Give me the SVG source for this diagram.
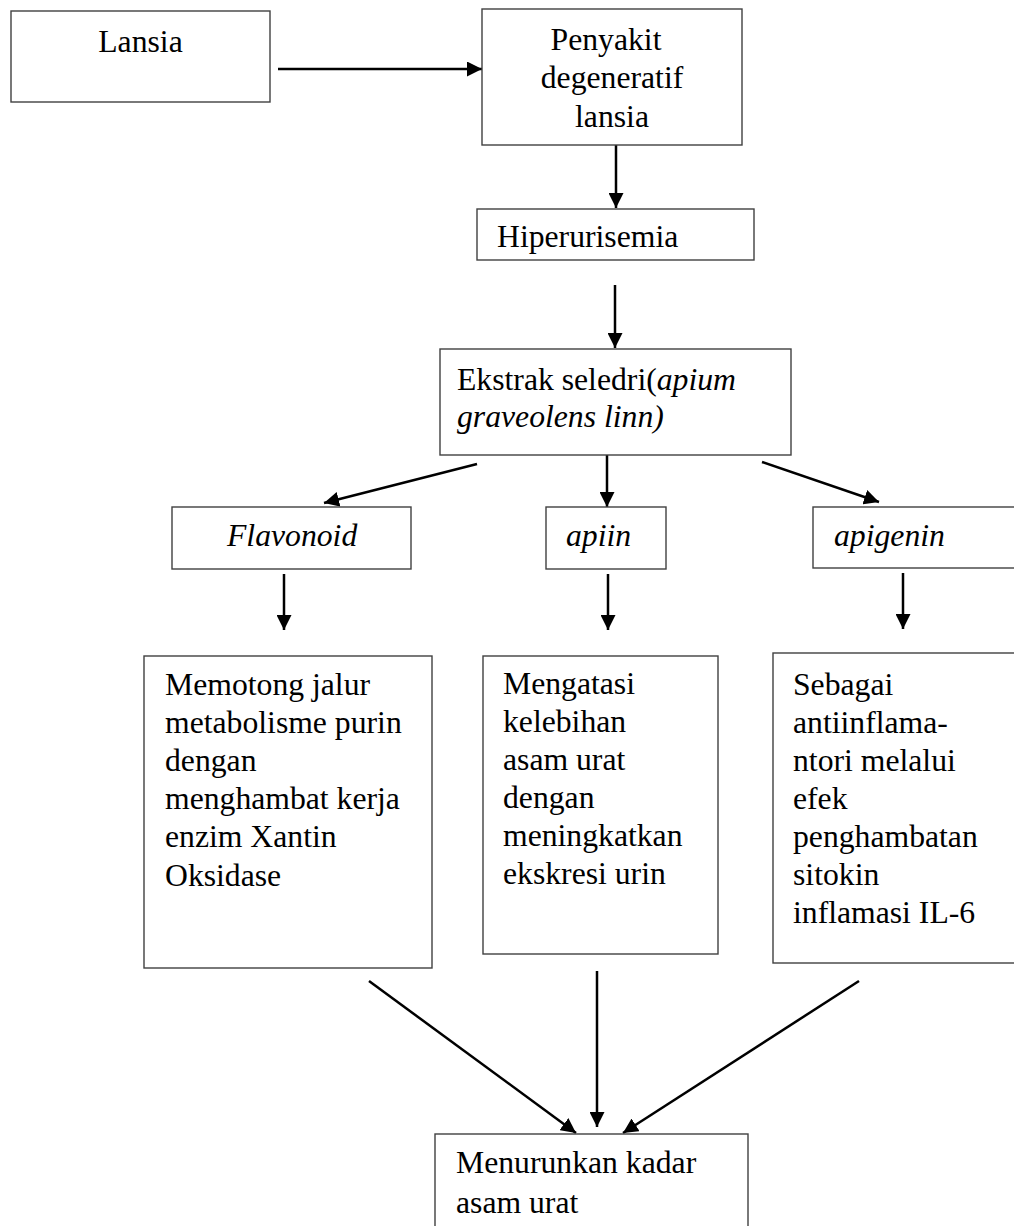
<svg xmlns="http://www.w3.org/2000/svg" width="1014" height="1226" viewBox="0 0 1014 1226">
<style>
.box{fill:#fff;stroke:#404040;stroke-width:1.4}
.t{font-family:"Liberation Serif","Times New Roman",serif;font-size:31.7px;fill:#000}
.i{font-style:italic}
.c{stroke:#000;stroke-width:2.5;fill:none;marker-end:url(#ah)}
</style>
<defs>
<marker id="ah" viewBox="0 0 10 10" refX="10" refY="5" markerWidth="6" markerHeight="6" markerUnits="strokeWidth" orient="auto">
<path d="M0,0 L10,5 L0,10 z" fill="#000"/>
</marker>
</defs>
<rect width="1014" height="1226" fill="#fff"/>
<g id="connectors">
<line class="c" x1="278" y1="69" x2="482" y2="69"/>
<line class="c" x1="616" y1="145" x2="616" y2="208"/>
<line class="c" x1="615" y1="285" x2="615" y2="348"/>
<line class="c" x1="477" y1="464" x2="324" y2="503"/>
<line class="c" x1="607" y1="455" x2="607" y2="507"/>
<line class="c" x1="762" y1="462" x2="879" y2="502"/>
<line class="c" x1="284" y1="574" x2="284" y2="630"/>
<line class="c" x1="608" y1="574" x2="608" y2="630"/>
<line class="c" x1="903" y1="573" x2="903" y2="629"/>
<line class="c" x1="369" y1="981" x2="576" y2="1133"/>
<line class="c" x1="597" y1="971" x2="597" y2="1127"/>
<line class="c" x1="859" y1="981" x2="623" y2="1133"/>
</g>
<g id="lansia">
<rect class="box" x="11" y="11" width="259" height="91"/>
<text class="t" x="140.5" y="52" text-anchor="middle">Lansia</text>
</g>
<g id="penyakit">
<rect class="box" x="482" y="9" width="260" height="136"/>
<text class="t" x="606" y="50" text-anchor="middle">Penyakit</text>
<text class="t" x="612" y="88" text-anchor="middle">degeneratif</text>
<text class="t" x="612" y="127" text-anchor="middle">lansia</text>
</g>
<g id="hiperurisemia">
<rect class="box" x="477" y="209" width="277" height="51"/>
<text class="t" x="497" y="247">Hiperurisemia</text>
</g>
<g id="ekstrak">
<rect class="box" x="440" y="349" width="351" height="106"/>
<text class="t" x="457" y="390">Ekstrak seledri(<tspan class="i">apium</tspan></text>
<text class="t i" x="457" y="427">graveolens linn)</text>
</g>
<g id="flavonoid">
<rect class="box" x="172" y="507" width="239" height="62"/>
<text class="t i" x="227" y="546">Flavonoid</text>
</g>
<g id="apiin">
<rect class="box" x="546" y="507" width="120" height="62"/>
<text class="t i" x="566" y="546">apiin</text>
</g>
<g id="apigenin">
<rect class="box" x="813" y="507" width="210" height="61"/>
<text class="t i" x="834" y="546">apigenin</text>
</g>
<g id="memotong">
<rect class="box" x="144" y="656" width="288" height="312"/>
<text class="t" x="165" y="695">Memotong jalur</text>
<text class="t" x="165" y="733">metabolisme purin</text>
<text class="t" x="165" y="771">dengan</text>
<text class="t" x="165" y="809">menghambat kerja</text>
<text class="t" x="165" y="847">enzim Xantin</text>
<text class="t" x="165" y="886">Oksidase</text>
</g>
<g id="mengatasi">
<rect class="box" x="483" y="656" width="235" height="298"/>
<text class="t" x="503" y="694">Mengatasi</text>
<text class="t" x="503" y="732">kelebihan</text>
<text class="t" x="503" y="770">asam urat</text>
<text class="t" x="503" y="808">dengan</text>
<text class="t" x="503" y="846">meningkatkan</text>
<text class="t" x="503" y="884">ekskresi urin</text>
</g>
<g id="sebagai">
<rect class="box" x="773" y="653" width="250" height="310"/>
<text class="t" x="793" y="695">Sebagai</text>
<text class="t" x="793" y="733">antiinflama-</text>
<text class="t" x="793" y="771">ntori melalui</text>
<text class="t" x="793" y="809">efek</text>
<text class="t" x="793" y="847">penghambatan</text>
<text class="t" x="793" y="885">sitokin</text>
<text class="t" x="793" y="923">inflamasi IL-6</text>
</g>
<g id="menurunkan">
<rect class="box" x="435" y="1134" width="313" height="110"/>
<text class="t" x="456" y="1173">Menurunkan kadar</text>
<text class="t" x="456" y="1213">asam urat</text>
</g>
</svg>
